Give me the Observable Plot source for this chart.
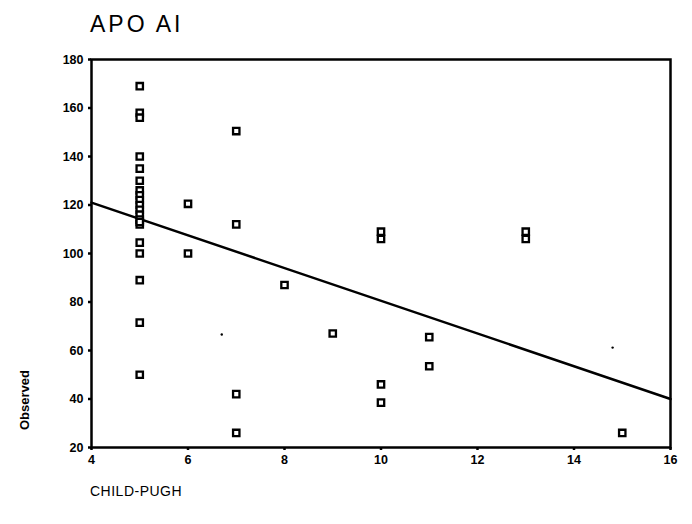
<!DOCTYPE html>
<html>
<head>
<meta charset="utf-8">
<script src="https://cdn.jsdelivr.net/npm/d3@7"></script>
<script src="https://cdn.jsdelivr.net/npm/@observablehq/plot@0.6"></script>
<style>
  html, body { margin: 0; padding: 0; background: #fff; }
  #wrap { position: relative; width: 692px; height: 524px; font-family: Arial, "Liberation Sans", sans-serif; }
  .title { position: absolute; left: 90px; top: 11px; font-size: 23px; letter-spacing: 3px; color: #000; }
  .xlab { position: absolute; left: 90px; top: 483px; font-size: 14px; letter-spacing: 0.5px; color: #000; }
  .ylab { position: absolute; left: 24px; top: 400px; font-size: 13px; font-weight: bold; color: #000;
          transform: translate(-50%, -50%) rotate(-90deg); white-space: nowrap; }
  #chart { position: absolute; left: 0; top: 0; }
</style>
</head>
<body>
<div id="wrap">
  <div id="chart"></div>
  <div class="title">APO AI</div>
  <div class="ylab">Observed</div>
  <div class="xlab">CHILD-PUGH</div>
</div>
<script>
// Observed points (CHILD-PUGH score, APO AI)
const childPugh = [5,5,5,5,5,5,5,5,5,5,5,5,5,5,5,5,5,5,5,5,
                   6,6, 7,7,7,7, 8, 9, 10,10,10,10, 11,11, 13,13, 15];
const apoAI     = [169,158,156,140,135,130,126,124,122,120,118,116,114,112,104.5,100,89,71.5,50,113,
                   120.5,100, 150.5,112,42,26, 87, 67, 109,106,46,38.5, 65.5,53.5, 109,106, 26];
// Stray specks
const speckX = [6.7, 14.8];
const speckY = [66.6, 61.2];
// Fitted line endpoints
const fitX = [4, 16];
const fitY = [121, 40];
// Ticks
const xTicks = [4, 6, 8, 10, 12, 14, 16];
const yTicks = [20, 40, 60, 80, 100, 120, 140, 160, 180];

const pts = childPugh.map((x, i) => ({x, y: apoAI[i]}));
const specks = speckX.map((x, i) => ({x, y: speckY[i]}));
const fit = fitX.map((x, i) => ({x, y: fitY[i]}));

const chart = Plot.plot({
  width: 692,
  height: 524,
  marginLeft: 91,
  marginRight: 22,
  marginTop: 59,
  marginBottom: 77,
  style: { fontFamily: "Arial, 'Liberation Sans', sans-serif", background: "#fff", color: "#000" },
  x: { domain: [4, 16], ticks: xTicks, label: null },
  y: { domain: [20, 180], ticks: yTicks, label: null },
  marks: [
    Plot.axisX({ ticks: xTicks, tickSize: 3, tickPadding: 5, fontSize: 12.5, fontWeight: "bold", stroke: "#000", strokeWidth: 2.5, label: null }),
    Plot.axisY({ ticks: yTicks, tickSize: 3, tickPadding: 5, fontSize: 12.5, fontWeight: "bold", stroke: "#000", strokeWidth: 2.5, label: null }),
    Plot.frame({ stroke: "#000", strokeWidth: 2.5 }),
    Plot.line(fit, { x: "x", y: "y", stroke: "#000", strokeWidth: 2.5 }),
    Plot.dot(pts, { x: "x", y: "y", symbol: "square", r: 3.6, stroke: "#000", strokeWidth: 2.3, fill: "#fff" }),
    Plot.dot(specks, { x: "x", y: "y", r: 1.2, fill: "#000" })
  ]
});
document.getElementById("chart").appendChild(chart);
</script>
</body>
</html>
